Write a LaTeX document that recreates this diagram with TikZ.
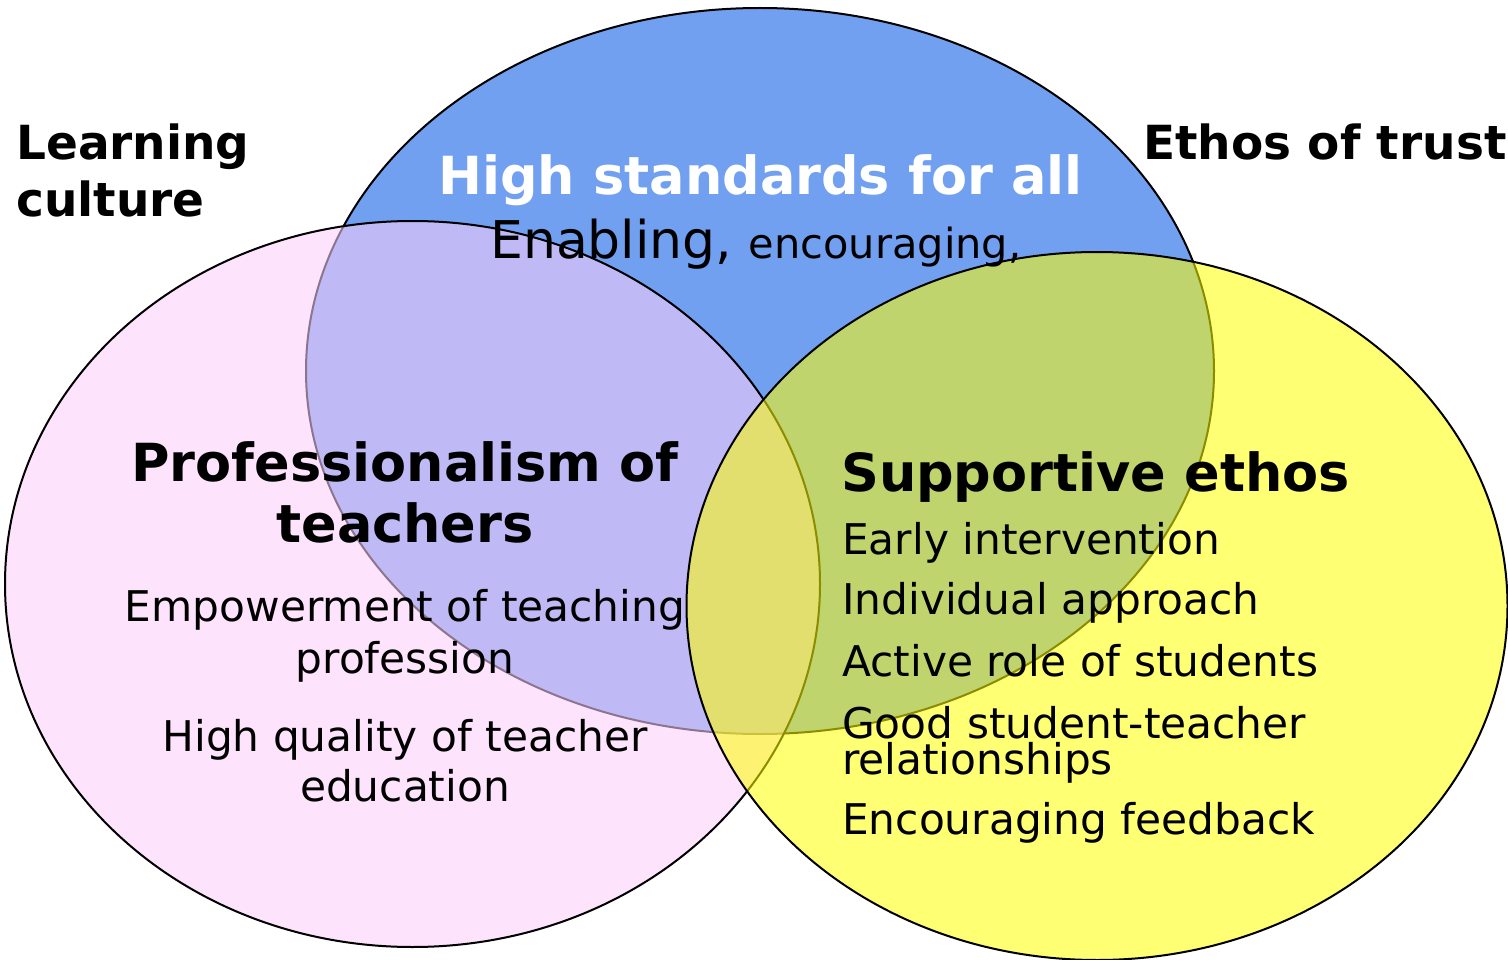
\documentclass[tikz,border=0pt]{standalone}
\usepackage{fontspec}
\setmainfont{DejaVu Sans}
\definecolor{vblue}{RGB}{114,160,240}
\definecolor{vpink}{RGB}{251,206,250}
\definecolor{vyellow}{RGB}{255,255,0}
\begin{document}
\begin{tikzpicture}[x=1pt,y=-1pt,
  venn/.style={draw=black, line width=2pt},
  lbl/.style={inner sep=0pt, anchor=base west, font=\fontsize{47}{56}\selectfont\bfseries},
  ttl/.style={inner sep=0pt, anchor=base, font=\fontsize{52.5}{60}\selectfont\bfseries},
  itm/.style={inner sep=0pt, anchor=base, font=\fontsize{42.3}{50}\selectfont},
  itml/.style={itm, anchor=base west}]
\useasboundingbox (0,0) rectangle (1508,960);
% circles
\draw[venn, fill=vblue] (760,371) ellipse [x radius=454, y radius=363];
\draw[venn, fill=vpink, fill opacity=0.57] (412.5,584) ellipse [x radius=407.5, y radius=363];
\draw[venn, fill=vyellow, fill opacity=0.55] (1097,606) ellipse [x radius=410.5, y radius=354];
% outer labels
\node[lbl] (lc1) at (16,160) {Learning};
\node[lbl] (lc2) at (16,217) {culture};
\node[lbl] (et) at (1143,160) {Ethos of trust};
% blue
\node[ttl, text=white] (hs) at (760.5,195) {High standards for all};
\node[inner sep=0pt, anchor=base west] (en) at (490,259) {\fontsize{52}{60}\selectfont Enabling, {\fontsize{41.5}{50}\selectfont encouraging,}};
% pink
\node[ttl] (p1) at (405,481) {Professionalism of};
\node[ttl] (p2) at (405,542) {teachers};
\node[itm] (p3) at (405,621) {Empowerment of teaching};
\node[itm] (p4) at (405,673) {profession};
\node[itm] (p5) at (405,751) {High quality of teacher};
\node[itm] (p6) at (405,801) {education};
% yellow
\node[ttl, anchor=base west] (s0) at (841,491) {Supportive ethos};
\node[itml] (s1) at (842,554) {Early intervention};
\node[itml] (s2) at (842,614) {Individual approach};
\node[itml] (s3) at (842,676) {Active role of students};
\node[itml] (s4) at (842,738) {Good student-teacher};
\node[itml] (s5) at (842,774) {relationships};
\node[itml] (s6) at (842,834) {Encouraging feedback};
\end{tikzpicture}
\end{document}
